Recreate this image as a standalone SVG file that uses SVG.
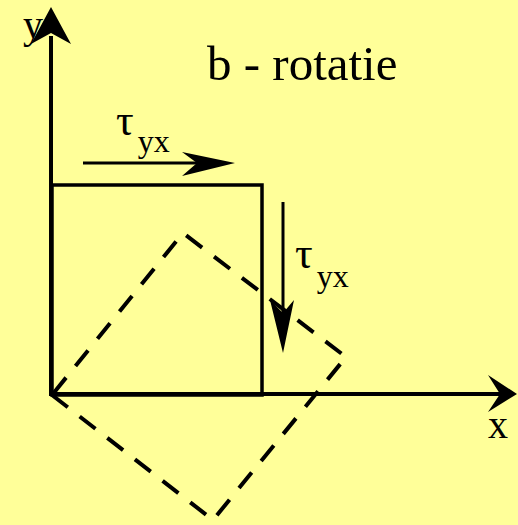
<svg xmlns="http://www.w3.org/2000/svg" width="518" height="525" viewBox="0 0 518 525">
<style>
.t{font-family:"Liberation Serif","Times New Roman",serif;fill:#000}
.ln{stroke:#000;fill:none}
.ah{fill:#000;stroke:none}
</style>
<rect x="0" y="0" width="518" height="525" fill="#ffff99"/>
<g id="title"><text class="t" x="207" y="80" font-size="49">b - rotatie</text></g>
<g id="label-y"><text class="t" x="23" y="38" font-size="40">y</text></g>
<g id="label-x"><text class="t" x="488" y="438" font-size="40">x</text></g>
<g id="rotated-square"><path class="ln" d="M52,395 L213,520 L346,357 L183,233 Z" stroke-width="4" stroke-dasharray="20 15"/></g>
<g id="square"><rect class="ln" x="52" y="185" width="210" height="210" stroke-width="3.5"/></g>
<g id="tau-top"><text class="t" x="116" y="135" font-size="44">τ<tspan font-size="32" dx="4" dy="17">yx</tspan></text></g>
<g id="tau-right"><text class="t" x="295" y="268" font-size="44">τ<tspan font-size="32" dx="4" dy="19">yx</tspan></text></g>
<g id="connectors">
<line class="ln" x1="51" y1="396" x2="51" y2="36" stroke-width="4"/>
<polygon class="ah" points="51,7 71,44 51,33 31,44"/>
<line class="ln" x1="50" y1="394" x2="502" y2="394" stroke-width="4"/>
<polygon class="ah" points="517,394 488,412 500,394 488,375"/>
<line class="ln" x1="83" y1="163" x2="200" y2="163" stroke-width="3"/>
<polygon class="ah" points="235,163 182,176 197,163 182,152"/>
<line class="ln" x1="283" y1="202" x2="283" y2="315" stroke-width="3"/>
<polygon class="ah" points="283,353 270,300 283,313 294,300"/>
</g>
</svg>
